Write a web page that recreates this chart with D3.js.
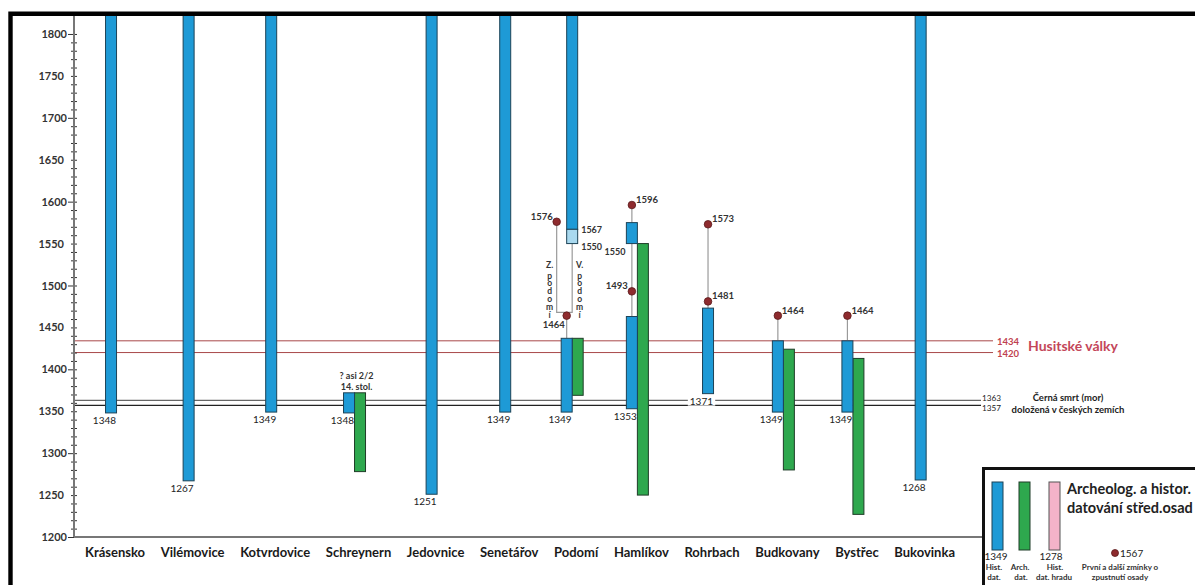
<!DOCTYPE html>
<html>
<head>
<meta charset="utf-8">
<script src="https://cdn.jsdelivr.net/npm/d3@7"></script>
<style>
  body { margin: 0; background: #fff; }
  svg { display: block; font-family: Lato, "DejaVu Sans", sans-serif; }
</style>
</head>
<body>
<svg id="chart" width="1195" height="585"></svg>
<script>
// Settlements along the x axis.
var places = ["Krásensko", "Vilémovice", "Kotvrdovice", "Schreynern", "Jedovnice", "Senetářov",
  "Podomí", "Hamlíkov", "Rohrbach", "Budkovany", "Bystřec", "Bukovinka"];

// Historical dating (blue): [place, from, to]; to = null means the village still exists.
var histBars = [
  ["Krásensko", 1348, null], ["Vilémovice", 1267, null], ["Kotvrdovice", 1349, null],
  ["Schreynern", 1348, 1372], ["Jedovnice", 1251, null], ["Senetářov", 1349, null],
  ["Podomí", 1349, 1437], ["Podomí", 1567, null],
  ["Hamlíkov", 1353, 1463], ["Hamlíkov", 1550, 1575],
  ["Rohrbach", 1371, 1473], ["Budkovany", 1349, 1434], ["Bystřec", 1349, 1434],
  ["Bukovinka", 1268, null]
];
// Archaeological dating (green).
var archBars = [
  ["Schreynern", 1278, 1372], ["Podomí", 1369, 1437], ["Hamlíkov", 1250, 1550],
  ["Budkovany", 1280, 1424], ["Bystřec", 1227, 1413]
];
// Uncertain stretch (light blue).
var lightBars = [["Podomí", 1550, 1567]];

// Mentions of the village / its desertion (red dots): [place, year, label side]
var mentions = [
  ["Podomí", 1576, "left"], ["Podomí", 1464, "below"],
  ["Hamlíkov", 1596, "right"], ["Hamlíkov", 1493, "left"],
  ["Rohrbach", 1573, "right"], ["Rohrbach", 1481, "right"],
  ["Budkovany", 1464, "right"], ["Bystřec", 1464, "right"]
];
// Grey connectors between mentions and bars: [place, from, to]
var stems = [
  ["Podomí", 1437, 1464], ["Hamlíkov", 1575, 1596], ["Hamlíkov", 1463, 1550],
  ["Rohrbach", 1473, 1573], ["Budkovany", 1434, 1464], ["Bystřec", 1434, 1464]
];
// Podomí splits into Z. (west) and V. (east) Podomí: last west mention, fork, east start.
var podomiSplit = [1576, 1468, 1550];

// Period lines
var husiteYears = [1434, 1420];
var plagueYears = [1363, 1357];

var yTicks = d3.range(1200, 1801, 10);

var svg = d3.select("#chart");
var yTop = 1823;
var y = d3.scaleLinear().domain([1200, yTop]).range([537, 14.7]);

// x labels laid out as a line of text, the scale maps each place to its label centre
var labelG = svg.append("g");
var labels = labelG.selectAll("text")
  .data(places)
  .enter()
  .append("text")
  .attr("y", 557)
  .attr("text-anchor", "middle")
  .style("font-size", "13px")
  .style("font-weight", "bold")
  .style("fill", "#1a1a1a")
  .text(d => d);
var widths = [];
labels.each(function() { widths.push(this.getComputedTextLength()); });
var gap = (955 - 85 - d3.sum(widths)) / (places.length - 1);
var centers = [], run = 85;
widths.forEach(function(w) { centers.push(run + w / 2); run += w + gap; });
var x = d3.scaleOrdinal().domain(places).range(centers);
labels.attr("x", d => x(d));

var W = 11;
function cx(p) { return x(p) - 4; }
function hasArch(p) { return archBars.some(a => a[0] === p); }
function paired(d) {
  var to = d[2] === null ? yTop : d[2];
  return archBars.some(a => a[0] === d[0] && a[1] <= to && a[2] >= d[1]);
}
function histLeft(d) { return paired(d) ? cx(d[0]) - W : cx(d[0]) - W / 2; }
function blueCol(p) { return hasArch(p) ? cx(p) - W / 2 : cx(p); }

// period lines
var husG = svg.append("g");
husG.selectAll("line")
  .data(husiteYears)
  .enter()
  .append("line")
  .attr("x1", 74).attr("x2", 993)
  .attr("y1", d => y(d)).attr("y2", d => y(d))
  .attr("stroke", "#a8484a")
  .attr("stroke-width", 1);
husG.selectAll("text")
  .data(husiteYears)
  .enter()
  .append("text")
  .attr("x", 997)
  .attr("y", d => y(d) + 4)
  .style("font-size", "9.5px")
  .style("font-weight", "bold")
  .style("fill", "#c0414f")
  .text(d => d);
husG.append("text")
  .attr("x", 1028).attr("y", 351)
  .style("font-size", "14px")
  .style("font-weight", "bold")
  .style("fill", "#c4475a")
  .text("Husitské války");

var plagueG = svg.append("g");
plagueG.selectAll("line")
  .data(plagueYears)
  .enter()
  .append("line")
  .attr("x1", 74).attr("x2", 981)
  .attr("y1", d => y(d)).attr("y2", d => y(d))
  .attr("stroke", (d, i) => i === 0 ? "#666" : "#222")
  .attr("stroke-width", 1.2);
plagueG.selectAll("text.yr")
  .data(plagueYears)
  .enter()
  .append("text")
  .attr("class", "yr")
  .attr("x", 982)
  .attr("y", (d, i) => i === 0 ? y(d) + 0.5 : y(d) + 5.5)
  .style("font-size", "8.2px")
  .style("fill", "#222")
  .text(d => d);
plagueG.append("text")
  .attr("x", 1068).attr("y", 401)
  .attr("text-anchor", "middle")
  .style("font-size", "9.5px").style("font-weight", "bold").style("fill", "#222")
  .text("Černá smrt (mor)");
plagueG.append("text")
  .attr("x", 1068).attr("y", 413)
  .attr("text-anchor", "middle")
  .style("font-size", "9.5px").style("font-weight", "bold").style("fill", "#222")
  .text("doložená v českých zemích");

// grey connectors
var stemG = svg.append("g").attr("stroke", "#9a9a9a").attr("stroke-width", 1.2);
stemG.selectAll("line")
  .data(stems)
  .enter()
  .append("line")
  .attr("x1", d => blueCol(d[0])).attr("x2", d => blueCol(d[0]))
  .attr("y1", d => y(d[1])).attr("y2", d => y(d[2]));
var pw = cx("Podomí") - 15.5, pe = cx("Podomí");
stemG.append("path")
  .attr("fill", "none")
  .attr("d", `M${pw},${y(podomiSplit[0])} V${y(podomiSplit[1])} H${pe} V${y(podomiSplit[2])}`);

// bars
var barG = svg.append("g");
barG.selectAll("rect.arch")
  .data(archBars)
  .enter()
  .append("rect")
  .attr("class", "arch")
  .attr("x", d => cx(d[0]))
  .attr("y", d => y(d[2]))
  .attr("width", W)
  .attr("height", d => y(d[1]) - y(d[2]))
  .attr("fill", "#2ea84e")
  .attr("stroke", "#1f3d28")
  .attr("stroke-width", 1);
barG.selectAll("rect.hist")
  .data(histBars)
  .enter()
  .append("rect")
  .attr("class", "hist")
  .attr("x", d => histLeft(d))
  .attr("y", d => y(d[2] === null ? yTop : d[2]))
  .attr("width", W)
  .attr("height", d => y(d[1]) - y(d[2] === null ? yTop : d[2]))
  .attr("fill", "#1e9ad6")
  .attr("stroke", "#1d4357")
  .attr("stroke-width", 1);
barG.selectAll("rect.light")
  .data(lightBars)
  .enter()
  .append("rect")
  .attr("class", "light")
  .attr("x", d => cx(d[0]) - W / 2)
  .attr("y", d => y(d[2]))
  .attr("width", W)
  .attr("height", d => y(d[1]) - y(d[2]))
  .attr("fill", "#a9d9ef")
  .attr("stroke", "#1d4357")
  .attr("stroke-width", 1);

// start years under the blue bars (only the lowest bar per place)
var startBars = histBars.filter(d => !histBars.some(o => o[0] === d[0] && o[1] < d[1]));
var startG = svg.append("g");
startG.selectAll("text")
  .data(startBars)
  .enter()
  .append("text")
  .attr("x", d => histLeft(d) + W - 0.5)
  .attr("y", d => y(d[1]) + 11)
  .attr("text-anchor", "end")
  .style("font-size", "10px")
  .style("fill", "#222")
  .text(d => d[1]);
// Rohrbach's year sits on the plague line, which is cut behind it
var rb = startG.selectAll("text").filter(d => d[0] === "Rohrbach").node().getBBox();
startG.insert("rect", "text")
  .attr("x", rb.x - 2).attr("y", rb.y + 2).attr("width", rb.width + 4).attr("height", rb.height - 3)
  .attr("fill", "#fff");

// extra bar labels
var smallText = function(sel) {
  return sel.style("font-size", "9px").style("font-weight", "bold").style("fill", "#333");
};
smallText(svg.append("text").attr("x", cx("Podomí") + 9).attr("y", y(1567) + 4).text("1567"));
smallText(svg.append("text").attr("x", cx("Podomí") + 9).attr("y", y(1550) + 6).text("1550"));
smallText(svg.append("text").attr("x", cx("Hamlíkov") - W - 1).attr("y", y(1550) + 11)
  .attr("text-anchor", "end").text("1550"));

// Schreynern note
var sTop = y(1372);
smallText(svg.append("text").attr("x", cx("Schreynern") + 2).attr("y", sTop - 13.5)
  .attr("text-anchor", "middle").style("font-size", "8.3px").text("? asi 2/2"));
smallText(svg.append("text").attr("x", cx("Schreynern") + 2).attr("y", sTop - 3.2)
  .attr("text-anchor", "middle").style("font-size", "8.3px").text("14. stol."));

// Z. / V. Podomí: the name is written downwards, letter under letter
[["Z.", pw - 7], ["V.", pe + 7.5]].forEach(function(pair) {
  svg.append("text")
    .attr("x", pair[1]).attr("y", 268)
    .attr("text-anchor", "middle")
    .style("font-size", "8.5px")
    .style("font-weight", "bold")
    .style("fill", "#333")
    .text(pair[0]);
  svg.append("text")
    .attr("x", pair[1]).attr("y", 270.5)
    .style("writing-mode", "vertical-rl")
    .style("text-orientation", "upright")
    .style("letter-spacing", "-2.1px")
    .style("font-size", "8.5px")
    .style("font-weight", "bold")
    .style("fill", "#333")
    .text("podomí");
});

// mention dots
function dotX(d) {
  return (d[0] === "Podomí" && d[1] === podomiSplit[0]) ? pw : blueCol(d[0]);
}
var dotG = svg.append("g");
dotG.selectAll("circle")
  .data(mentions)
  .enter()
  .append("circle")
  .attr("cx", d => dotX(d))
  .attr("cy", d => y(d[1]))
  .attr("r", 3.8)
  .attr("fill", "#8e2b2e")
  .attr("stroke", "#5a1a1c")
  .attr("stroke-width", 0.8);
dotG.selectAll("text")
  .data(mentions)
  .enter()
  .append("text")
  .attr("x", d => d[2] === "right" ? dotX(d) + 4 : dotX(d) - (d[2] === "below" ? 2 : 4))
  .attr("y", d => d[2] === "below" ? y(d[1]) + 12 : y(d[1]) - 2)
  .attr("text-anchor", d => d[2] === "right" ? "start" : "end")
  .style("font-size", "9.5px")
  .style("font-weight", "bold")
  .style("fill", "#333")
  .text(d => d[1]);

// axes
var yAxis = d3.axisLeft(y)
  .tickValues(yTicks)
  .tickSize(3)
  .tickFormat(d => d % 50 === 0 ? d : "");
var yG = svg.append("g")
  .attr("transform", "translate(74,0)")
  .call(yAxis);
yG.select(".domain").remove();
yG.selectAll(".tick line")
  .attr("x1", d => d % 100 === 0 ? -6 : -3)
  .attr("x2", 3)
  .attr("stroke", "#333");
yG.selectAll(".tick text")
  .attr("x", d => d % 100 === 0 ? -7 : -10)
  .style("font-family", "Lato, sans-serif")
  .style("font-size", "11px")
  .style("font-weight", "bold")
  .style("fill", "#333");
svg.append("line")
  .attr("x1", 74).attr("x2", 74).attr("y1", 14).attr("y2", 537)
  .attr("stroke", "#777").attr("stroke-width", 2);
svg.append("line")
  .attr("x1", 74).attr("x2", 984).attr("y1", 537).attr("y2", 537)
  .attr("stroke", "#777").attr("stroke-width", 2);

// frame
svg.append("path")
  .attr("d", "M10.5,585 V13.8 H1195")
  .attr("fill", "none")
  .attr("stroke", "#000")
  .attr("stroke-width", 4.4);

// legend
var lg = svg.append("g");
lg.append("rect")
  .attr("x", 983.5).attr("y", 468.5).attr("width", 300).attr("height", 200)
  .attr("fill", "#fff").attr("stroke", "#111").attr("stroke-width", 3);
var legendSw = [["#1e9ad6", 992, "#1d4357"], ["#2ea84e", 1019, "#1f3d28"], ["#f4b3c9", 1049, "#555"]];
lg.selectAll("rect.sw")
  .data(legendSw)
  .enter()
  .append("rect")
  .attr("class", "sw")
  .attr("x", d => d[1]).attr("y", 482).attr("width", 11).attr("height", 68)
  .attr("fill", d => d[0]).attr("stroke", d => d[2]).attr("stroke-width", 1);
lg.append("text").attr("x", 1067).attr("y", 494)
  .style("font-size", "14.5px").style("font-weight", "bold").style("fill", "#222")
  .text("Archeolog. a histor.");
lg.append("text").attr("x", 1067).attr("y", 513)
  .style("font-size", "14.5px").style("font-weight", "bold").style("fill", "#222")
  .text("datování střed.osad");
lg.append("text").attr("x", 996).attr("y", 560).attr("text-anchor", "middle")
  .style("font-size", "10px").style("fill", "#222").text("1349");
lg.append("text").attr("x", 1051).attr("y", 560).attr("text-anchor", "middle")
  .style("font-size", "10px").style("fill", "#222").text("1278");
lg.append("circle").attr("cx", 1115).attr("cy", 553).attr("r", 3.5)
  .attr("fill", "#8e2b2e").attr("stroke", "#5a1a1c").attr("stroke-width", 0.8);
lg.append("text").attr("x", 1120).attr("y", 557)
  .style("font-size", "10px").style("fill", "#222").text("1567");
// two-line captions under the legend swatches: [text, x, baseline]
var legendNotes = [
  ["Hist.", 994, 570], ["dat.", 994, 579.8], ["Arch.", 1020, 570], ["dat.", 1021, 579.8],
  ["Hist.", 1055, 570], ["dat. hradu", 1054, 579.8],
  ["První a další zmínky o", 1120, 570], ["zpustnutí osady", 1120, 579.8]
];
lg.selectAll("text.note")
  .data(legendNotes)
  .enter()
  .append("text")
  .attr("class", "note")
  .attr("x", d => d[1]).attr("y", d => d[2])
  .attr("text-anchor", "middle")
  .style("font-size", "8px")
  .style("font-weight", "bold")
  .style("fill", "#333")
  .text(d => d[0]);
</script>
</body>
</html>
